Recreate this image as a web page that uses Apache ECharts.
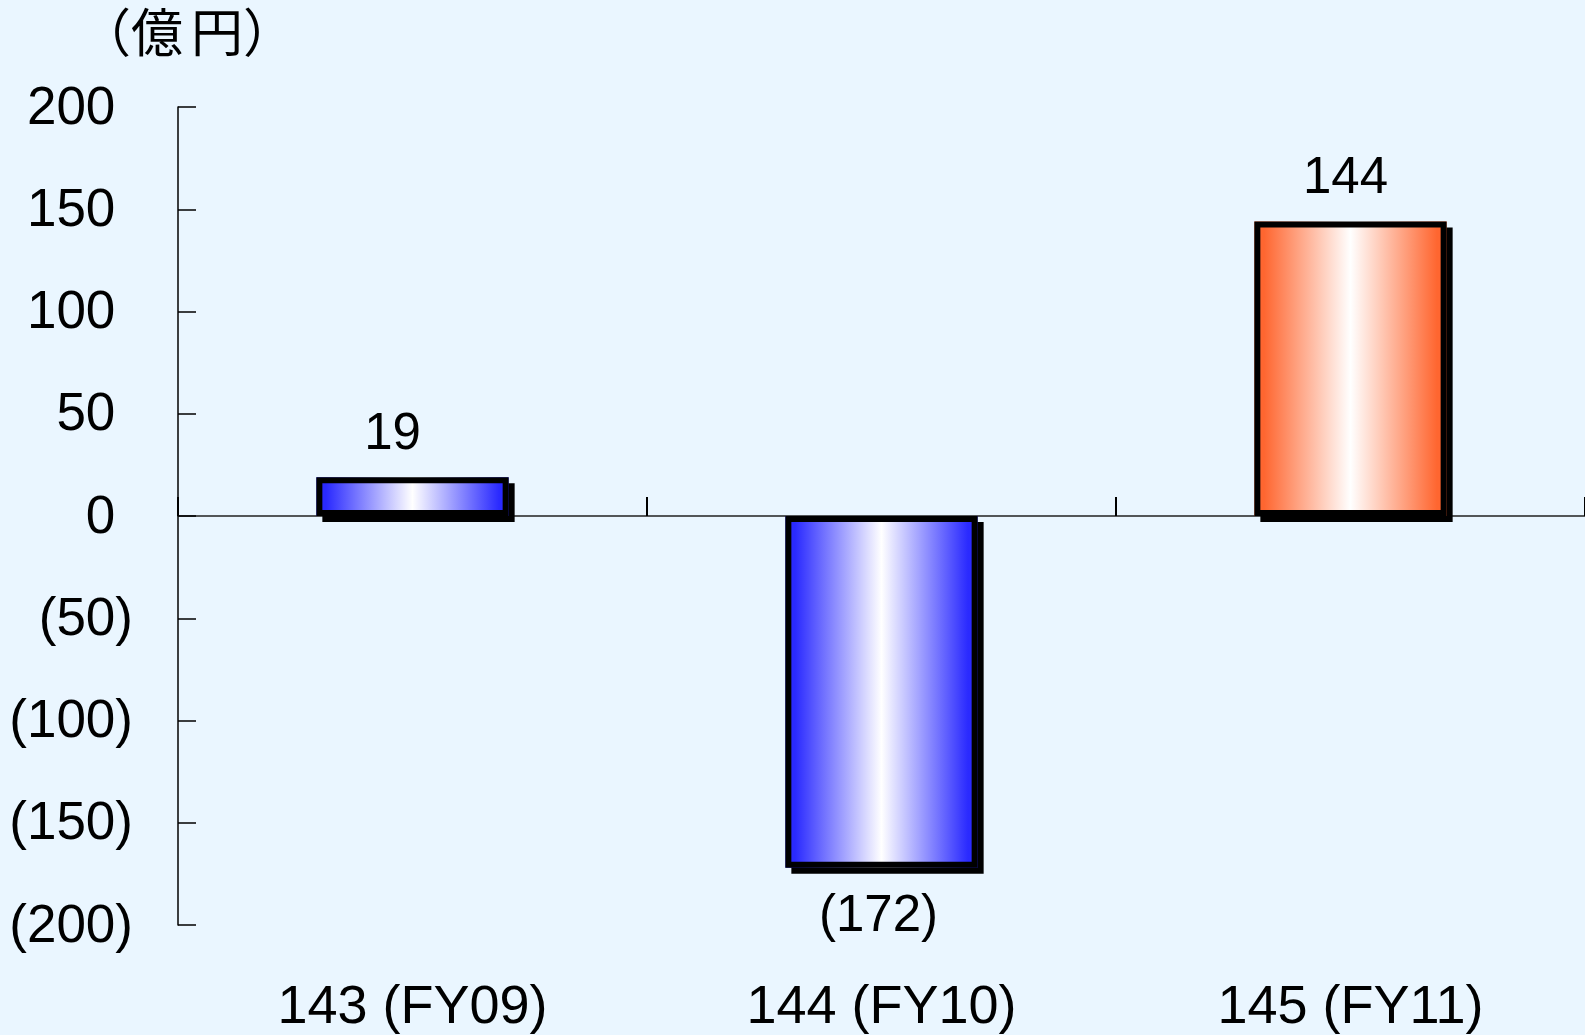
<!DOCTYPE html>
<html>
<head>
<meta charset="utf-8">
<script src="https://cdn.jsdelivr.net/npm/echarts@6/dist/echarts.min.js"></script>
<style>
  html, body { margin: 0; padding: 0; background: #eaf6ff; }
  #chart { width: 1585px; height: 1035px; }
</style>
</head>
<body>
<div id="chart"></div>
<script>
// Fiscal years and the yearly result (億円)
const categories = ['143 (FY09)', '144 (FY10)', '145 (FY11)'];
const values = [19, -172, 144];
const unitLabel = '（億円）';

// Axis range
const yMin = -200, yMax = 200, yStep = 50;

// Styling
const FONT = '"Liberation Sans", Arial, sans-serif';
const CJK = '"Noto Sans CJK JP", sans-serif';
const grad = c => ({ type: 'linear', x: 0, y: 0, x2: 1, y2: 0,
  colorStops: [
    { offset: 0, color: c }, { offset: 0.05, color: c },
    { offset: 0.5, color: '#ffffff' },
    { offset: 0.95, color: c }, { offset: 1, color: c }] });
const blueGrad = grad('#2a2aff');
const orangeGrad = grad('#ff6630');
const barFills = [blueGrad, blueGrad, orangeGrad];
const labelNudge = [-20, -3, -5];

const fmt = v => (v < 0 ? '(' + (-v) + ')' : String(v));

// unit caption split into rich tokens so the spacing can be tuned
const unitChars = Array.from(unitLabel);
const unitRich = unitChars.map((ch, i) => '{u' + i + '|' + ch + '}').join('');

const chart = echarts.init(document.getElementById('chart'), null, { renderer: 'canvas' });

chart.setOption({
  backgroundColor: '#eaf6ff',
  animation: false,
  grid: { left: 178, right: -1, top: 107, bottom: 108, containLabel: false },
  graphic: [{
    type: 'text',
    left: 79, top: 6,
    style: {
      text: unitRich, fill: '#000',
      rich: {
        u0: { fontSize: 52, fontFamily: CJK },
        u1: { fontSize: 52, fontFamily: CJK, padding: [0, 8, 0, 0] },
        u2: { fontSize: 52, fontFamily: CJK },
        u3: { fontSize: 52, fontFamily: CJK }
      }
    }
  }],
  xAxis: [{
    type: 'category',
    data: categories,
    position: 'bottom',
    axisLine: { onZero: true, lineStyle: { color: '#222', width: 1.5 } },
    axisTick: { show: true, inside: true, length: 19, lineStyle: { color: '#000', width: 2 } },
    axisLabel: { show: false },
    splitLine: { show: false }
  }, {
    type: 'category',
    data: categories,
    position: 'bottom',
    axisLine: { show: false, onZero: false },
    axisTick: { show: false },
    axisLabel: { show: true, margin: 56, color: '#000', fontSize: 54, lineHeight: 54, fontFamily: FONT },
    splitLine: { show: false }
  }],
  yAxis: {
    type: 'value',
    min: yMin, max: yMax, interval: yStep,
    axisLine: { show: true, onZero: false, lineStyle: { color: '#000', width: 1.5 } },
    axisTick: { show: true, inside: true, length: 18, lineStyle: { color: '#000', width: 1.5 } },
    splitLine: { show: false },
    axisLabel: {
      margin: 45, color: '#000', fontSize: 53, fontFamily: FONT, padding: [4, 0, 0, 0],
      formatter: v => (v < 0 ? '(' + (-v) + ')' : v + '{g|)}'),
      rich: { g: { color: 'rgba(0,0,0,0)', fontSize: 53, fontFamily: FONT } }
    }
  },
  series: [{
    // gradient body with its drop shadow
    type: 'bar',
    xAxisIndex: 0,
    barWidth: '41%',
    barGap: '-100%',
    z: 2,
    data: values.map((v, i) => ({ value: v, itemStyle: { color: barFills[i] } })),
    itemStyle: {
      borderWidth: 0,
      shadowColor: '#000', shadowBlur: 0, shadowOffsetX: 6, shadowOffsetY: 6
    }
  }, {
    // black outline drawn over the body, carrying the value labels
    type: 'bar',
    xAxisIndex: 0,
    barWidth: '41%',
    barGap: '-100%',
    z: 3,
    data: values.map((v, i) => ({
      value: v,
      label: {
        position: v < 0 ? 'bottom' : 'top',
        distance: v < 0 ? 24 : 17,
        offset: [labelNudge[i], 0]
      }
    })),
    itemStyle: { color: 'rgba(0,0,0,0)', borderColor: '#000', borderWidth: 6 },
    label: {
      show: true, color: '#000', fontSize: 51, lineHeight: 51, fontFamily: FONT,
      formatter: p => fmt(p.value)
    }
  }]
});
</script>
</body>
</html>
